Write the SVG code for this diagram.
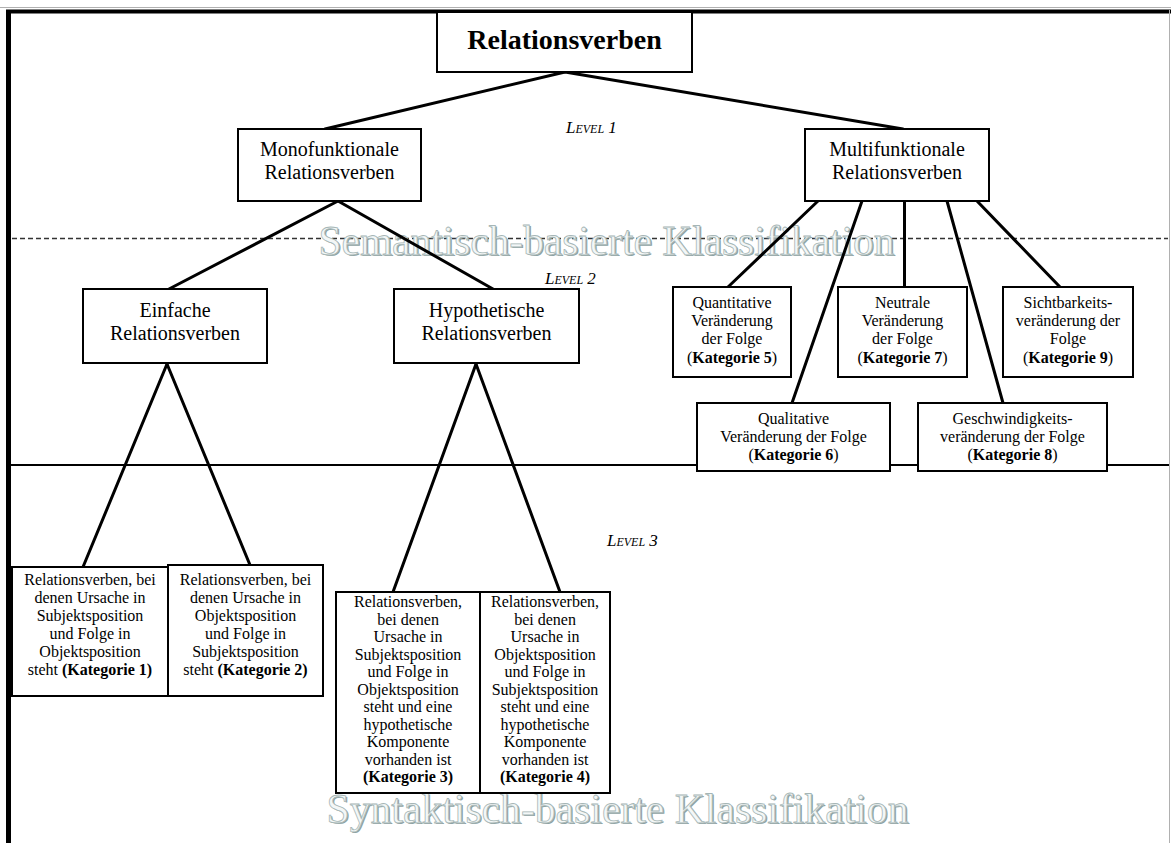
<svg xmlns="http://www.w3.org/2000/svg" width="1171" height="843" viewBox="0 0 1171 843">
  <style>
    .box { fill: #ffffff; stroke: #000000; stroke-width: 2; }
    .edge { stroke: #000000; stroke-width: 3; stroke-linecap: round; fill: none; }
    .t { font-family: "Liberation Serif", "Times New Roman", serif; fill: #000000; text-anchor: middle; }
    .n20 { font-size: 20px; }
    .n16 { font-size: 16px; }
    .b { font-weight: bold; }
    .lvl { font-family: "Liberation Serif", "Times New Roman", serif; font-style: italic; font-variant: small-caps; font-size: 17px; fill: #000000; }
    .wm { font-family: "Liberation Serif", "Times New Roman", serif; font-size: 43px; }
    .wm-shadow { fill: #8ea2a2; }
    .wm-face { fill: #f3f7f7; stroke: #a6b6b6; stroke-width: 0.8; }
  </style>

  <rect x="0" y="0" width="1171" height="843" fill="#ffffff"/>

  <!-- page frame -->
  <g id="frame">
    <line x1="0" y1="7.5" x2="1171" y2="7.5" stroke="#b0b0b0" stroke-width="1"/>
    <line x1="6" y1="11.5" x2="1171" y2="11.5" stroke="#000000" stroke-width="4"/>
    <line x1="8.5" y1="10" x2="8.5" y2="843" stroke="#000000" stroke-width="5"/>
    <line x1="1169.5" y1="10" x2="1169.5" y2="843" stroke="#b0b0b0" stroke-width="1"/>
  </g>

  <!-- classification boundaries -->
  <g id="separators">
    <line x1="12" y1="238.5" x2="1168" y2="238.5" stroke="#333333" stroke-width="1.3" stroke-dasharray="5 3"/>
    <line x1="10" y1="465" x2="1169" y2="465" stroke="#000000" stroke-width="2"/>
  </g>

  <!-- embossed section titles -->
  <g id="section-titles">
    <text class="wm wm-shadow" x="320" y="256" textLength="576" lengthAdjust="spacingAndGlyphs">Semantisch-basierte Klassifikation</text>
    <text class="wm wm-face" x="318.5" y="254.5" textLength="576" lengthAdjust="spacingAndGlyphs">Semantisch-basierte Klassifikation</text>
    <text class="wm wm-shadow" x="328" y="824" textLength="582" lengthAdjust="spacingAndGlyphs">Syntaktisch-basierte Klassifikation</text>
    <text class="wm wm-face" x="326.5" y="822.5" textLength="582" lengthAdjust="spacingAndGlyphs">Syntaktisch-basierte Klassifikation</text>
  </g>

  <!-- level labels -->
  <g id="levels">
    <text class="lvl" x="566" y="133">Level 1</text>
    <text class="lvl" x="545" y="284">Level 2</text>
    <text class="lvl" x="607" y="546">Level 3</text>
  </g>

  <g id="connectors">
    <line class="edge" x1="565" y1="72" x2="325" y2="129"/>
    <line class="edge" x1="565" y1="72" x2="903" y2="129"/>
    <line class="edge" x1="338" y1="201" x2="169" y2="289"/>
    <line class="edge" x1="338" y1="201" x2="493" y2="289"/>
    <line class="edge" x1="167" y1="364" x2="83" y2="567"/>
    <line class="edge" x1="167" y1="364" x2="250" y2="565"/>
    <line class="edge" x1="476" y1="364" x2="393" y2="592"/>
    <line class="edge" x1="476" y1="364" x2="560" y2="592"/>
    <line class="edge" x1="818" y1="201" x2="728" y2="287"/>
    <line class="edge" x1="862" y1="201" x2="792" y2="403"/>
    <line class="edge" x1="904.5" y1="201" x2="904.5" y2="287"/>
    <line class="edge" x1="947" y1="201" x2="1003" y2="403"/>
    <line class="edge" x1="977" y1="201" x2="1060" y2="287"/>
  </g>

  <g id="node-root">
    <rect class="box" x="437" y="12" width="255" height="60"/>
    <text class="t b" x="564.5" y="49" font-size="28">Relationsverben</text>
  </g>

  <g id="node-mono">
    <rect class="box" x="238" y="129" width="183" height="72"/>
    <text class="t n20" x="329.5" y="156">Monofunktionale</text>
    <text class="t n20" x="329.5" y="179">Relationsverben</text>
  </g>

  <g id="node-multi">
    <rect class="box" x="805" y="129" width="184" height="72"/>
    <text class="t n20" x="897" y="156">Multifunktionale</text>
    <text class="t n20" x="897" y="179">Relationsverben</text>
  </g>

  <g id="node-einfache">
    <rect class="box" x="83" y="289" width="184" height="74"/>
    <text class="t n20" x="175" y="317">Einfache</text>
    <text class="t n20" x="175" y="340">Relationsverben</text>
  </g>

  <g id="node-hypothetische">
    <rect class="box" x="394" y="289" width="185" height="74"/>
    <text class="t n20" x="486.5" y="317">Hypothetische</text>
    <text class="t n20" x="486.5" y="340">Relationsverben</text>
  </g>

  <g id="node-kat5">
    <rect class="box" x="673" y="287" width="118" height="90"/>
    <text class="t n16" x="732" y="308">Quantitative</text>
    <text class="t n16" x="732" y="326">Veränderung</text>
    <text class="t n16" x="732" y="344">der Folge</text>
    <text class="t n16" x="732" y="363">(<tspan class="b">Kategorie 5</tspan>)</text>
  </g>

  <g id="node-kat7">
    <rect class="box" x="838" y="287" width="129" height="90"/>
    <text class="t n16" x="902.5" y="308">Neutrale</text>
    <text class="t n16" x="902.5" y="326">Veränderung</text>
    <text class="t n16" x="902.5" y="344">der Folge</text>
    <text class="t n16" x="902.5" y="363">(<tspan class="b">Kategorie 7</tspan>)</text>
  </g>

  <g id="node-kat9">
    <rect class="box" x="1003" y="287" width="130" height="90"/>
    <text class="t n16" x="1068" y="308">Sichtbarkeits-</text>
    <text class="t n16" x="1068" y="326">veränderung der</text>
    <text class="t n16" x="1068" y="344">Folge</text>
    <text class="t n16" x="1068" y="363">(<tspan class="b">Kategorie 9</tspan>)</text>
  </g>

  <g id="node-kat6">
    <rect class="box" x="697" y="403" width="193" height="68"/>
    <text class="t n16" x="793.5" y="424">Qualitative</text>
    <text class="t n16" x="793.5" y="442">Veränderung der Folge</text>
    <text class="t n16" x="793.5" y="460">(<tspan class="b">Kategorie 6</tspan>)</text>
  </g>

  <g id="node-kat8">
    <rect class="box" x="918" y="403" width="189" height="68"/>
    <text class="t n16" x="1012.5" y="424">Geschwindigkeits-</text>
    <text class="t n16" x="1012.5" y="442">veränderung der Folge</text>
    <text class="t n16" x="1012.5" y="460">(<tspan class="b">Kategorie 8</tspan>)</text>
  </g>

  <g id="node-kat1">
    <rect class="box" x="12" y="567" width="156" height="129"/>
    <text class="t n16" x="90" y="585">Relationsverben, bei</text>
    <text class="t n16" x="90" y="603">denen Ursache in</text>
    <text class="t n16" x="90" y="621">Subjektsposition</text>
    <text class="t n16" x="90" y="639">und Folge in</text>
    <text class="t n16" x="90" y="657">Objektsposition</text>
    <text class="t n16" x="90" y="675">steht <tspan class="b">(Kategorie 1)</tspan></text>
  </g>

  <g id="node-kat2">
    <rect class="box" x="168" y="565" width="155" height="131"/>
    <text class="t n16" x="245.5" y="585">Relationsverben, bei</text>
    <text class="t n16" x="245.5" y="603">denen Ursache in</text>
    <text class="t n16" x="245.5" y="621">Objektsposition</text>
    <text class="t n16" x="245.5" y="639">und Folge in</text>
    <text class="t n16" x="245.5" y="657">Subjektsposition</text>
    <text class="t n16" x="245.5" y="675">steht <tspan class="b">(Kategorie 2)</tspan></text>
  </g>

  <g id="node-kat3">
    <rect class="box" x="336" y="592" width="144" height="201"/>
    <text class="t n16" x="408" y="607">Relationsverben,</text>
    <text class="t n16" x="408" y="624.5">bei denen</text>
    <text class="t n16" x="408" y="642">Ursache in</text>
    <text class="t n16" x="408" y="659.5">Subjektsposition</text>
    <text class="t n16" x="408" y="677">und Folge in</text>
    <text class="t n16" x="408" y="694.5">Objektsposition</text>
    <text class="t n16" x="408" y="712">steht und  eine</text>
    <text class="t n16" x="408" y="729.5">hypothetische</text>
    <text class="t n16" x="408" y="747">Komponente</text>
    <text class="t n16" x="408" y="764.5">vorhanden ist</text>
    <text class="t n16 b" x="408" y="782">(Kategorie 3)</text>
  </g>

  <g id="node-kat4">
    <rect class="box" x="480" y="592" width="130" height="201"/>
    <text class="t n16" x="545" y="607">Relationsverben,</text>
    <text class="t n16" x="545" y="624.5">bei denen</text>
    <text class="t n16" x="545" y="642">Ursache in</text>
    <text class="t n16" x="545" y="659.5">Objektsposition</text>
    <text class="t n16" x="545" y="677">und Folge in</text>
    <text class="t n16" x="545" y="694.5">Subjektsposition</text>
    <text class="t n16" x="545" y="712">steht und eine</text>
    <text class="t n16" x="545" y="729.5">hypothetische</text>
    <text class="t n16" x="545" y="747">Komponente</text>
    <text class="t n16" x="545" y="764.5">vorhanden ist</text>
    <text class="t n16 b" x="545" y="782">(Kategorie 4)</text>
  </g>
</svg>
